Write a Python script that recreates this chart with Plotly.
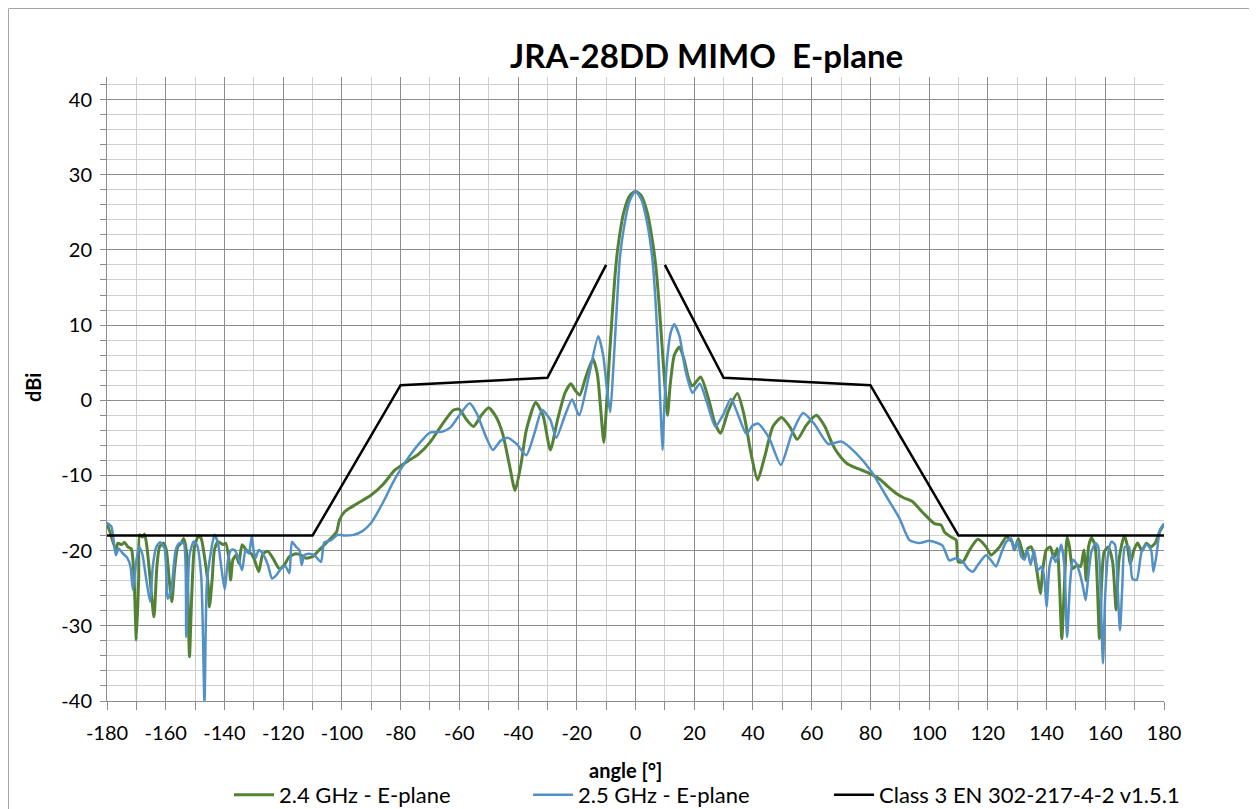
import plotly.graph_objects as go

# ---------------- data ----------------
green_angle = [-180, -179, -177, -176.3, -175.1, -174, -172.9, -171.7, -170.8, -170, -169.2, -168.9, -168, -167.2,
               -166.4, -165.5, -164, -163, -162.1, -160.7, -159.8, -158.7, -157.9, -157, -155.9, -154.7, -153.9,
               -153, -152.4, -151.9, -151.2, -150.2, -148.8, -147.9, -146.8, -145.6, -145.1, -144.2, -143.4, -142.2,
               -140.5, -139.6, -138.5, -137.9, -137.1, -136, -135.1, -134, -132.6, -130.9, -129.8, -128.3, -126.9,
               -125.2, -123.5, -121.3, -119.6, -117.9, -115.6, -113.9, -112.2, -110, -107.7, -105.4, -103.1, -101.8,
               -100.8, -99, -95, -90, -86, -82, -78, -74, -70, -66, -62, -60, -57.5, -55.2, -52.5, -50, -47.5,
               -45.2, -43, -41, -39, -37.2, -34, -31.5, -29, -26.5, -24, -22, -20.5, -19, -17, -14.5, -13, -12,
               -10.8, -10, -9, -8, -7, -6, -4, -2, 0, 2, 4, 6, 7, 8, 9, 10, 10.9, 11.8, 13.2, 14.9, 16.5, 18, 19.4,
               22.2, 25, 27, 29, 31.5, 34.7, 37, 39.3, 41.6, 44, 46.8, 49.7, 52.5, 55.1, 58.2, 61.6, 64.5, 67, 69,
               72, 75.8, 79, 83.2, 86, 88.8, 91.5, 94.4, 98, 101.8, 104.1, 105.2, 107.5, 109.2, 109.9, 111.5, 113.8,
               116.6, 119.4, 121.1, 124, 126.3, 128.2, 129.1, 130.4, 131.6, 132.5, 133.6, 134.8, 136.1, 137, 137.9,
               138.7, 139.9, 141.3, 142.5, 143.6, 144.4, 145.2, 146.1, 147, 147.8, 148.9, 150.4, 151.6, 152.7,
               153.5, 154.3, 155.3, 156.5, 157.3, 158, 158.8, 159.6, 161, 162.5, 163.7, 164.6, 165.6, 166.5, 167.6,
               168.5, 169.7, 171, 172.5, 174, 175.5, 177, 178.5, 180]
green_dbi = [-16.5, -17.5, -19.9, -19.0, -19.2, -18.9, -19.5, -19.8, -23.5, -31.9, -23.5, -17.9, -18.2, -17.8,
             -19.5, -23.0, -28.8, -22.1, -19.5, -19.0, -19.9, -24.3, -26.8, -22.6, -19.5, -19.0, -18.4,
             -19.9, -26.6, -34.1, -26.6, -19.5, -18.0, -18.4, -20.8, -24.4, -27.5, -23.9, -19.9, -18.8,
             -19.2, -19.0, -21.0, -23.9, -21.2, -20.6, -21.7, -19.2, -19.9, -20.4, -21.2, -22.8, -20.4,
             -20.1, -21.0, -22.4, -21.9, -20.8, -20.4, -20.6, -21.0, -20.8, -19.9, -19.0, -18.1, -17.5,
             -15.9, -14.8, -13.8, -12.6, -11.2, -9.3, -8.2, -7.2, -5.6, -3.3, -1.3, -1.2, -2.6, -3.5, -2.0, -1.0, -2.2,
             -4.5, -8.5, -12.0, -8.5, -4.0, -0.3, -2.0, -6.6, -2.5, 1.0, 2.2, 1.3, 0.7, 3.0, 5.5, 3.5, -0.5,
             -5.6, -1.5, 5.0, 11.0, 16.5, 20.3, 25.0, 27.2, 27.8, 27.2, 25.0, 20.6, 17.5, 13.0, 7.5, 2.0, -2.0, 2.0, 6.0, 7.1, 5.5, 3.0, 1.9,
             3.1, 0.0, -3.0, -4.4, -1.5, 0.9, -2.0, -7.0, -10.6, -7.5, -3.5, -2.3, -3.5, -5.2, -3.3, -2.0, -3.5, -5.8, -7.1,
             -8.4, -9.1, -9.6, -10.5, -11.5, -12.4, -13.0, -13.5, -15.0, -16.4, -16.6, -17.5, -18.2, -18.6, -21.5, -21.5, -19.9,
             -18.5, -19.5, -20.6, -19.5, -18.2, -18.8, -19.9, -18.4, -19.9, -21.0, -19.7, -19.5, -21.3, -23.5, -25.7,
             -22.6, -19.9, -19.5, -21.0, -19.7, -24.4, -31.7, -24.4, -18.2, -19.5, -22.4, -21.9, -22.1, -19.9,
             -24.0, -19.5, -18.3, -19.3, -24.5, -31.7, -24.0, -20.2, -19.5, -21.5, -27.9, -21.5, -19.2, -18.0, -19.5,
             -21.8, -20.0, -19.0, -20.0, -19.0, -19.5, -19.0, -17.5, -16.5]

blue_angle = [-180, -178.5, -177, -176, -174.8, -173.2, -172, -171.2, -170.2, -169.1, -168, -166.6, -165.3, -164.4,
              -163.2, -161.9, -160.4, -159.3, -158.1, -156.6, -155.3, -153.9, -153, -151.9, -150.5, -149.4, -147.9,
              -146.8, -146, -144.7, -143.4, -142.2, -141.1, -139.9, -138.8, -137.7, -136.6, -135.4, -134, -132.8,
              -131.7, -130.7, -130.1, -129.4, -128.3, -126.9, -125.2, -123.8, -122.4, -120.7, -119.2, -117.9, -117,
              -115.6, -114.5, -113.7, -112.8, -111.1, -109.4, -107.1, -106, -103.7, -101.4, -99, -96, -93, -90, -86,
              -82, -78, -74, -70, -66, -63, -60, -56.5, -54, -51, -48.6, -46, -43.5, -40.5, -37.2, -34.5, -31.8, -29,
              -27, -24, -21.6, -19.2, -16, -12.7, -11, -9.6, -8.6, -7.6, -6.5, -5.4, -4, -2, 0, 2, 4, 5.8, 7, 8, 8.7,
              9.2, 9.8, 10.8, 12, 13.2, 15, 17, 19.4, 21.9, 24.5, 27.2, 30, 32.5, 35, 37.8, 39.8, 41.8, 45.5, 49.5,
              53.2, 57.1, 61, 65.6, 70.2, 75, 80.4, 85, 89.9, 93.3, 96.7, 100.1, 104.5, 106.9, 109.2, 111.5, 113.2,
              114.9, 116.6, 119.4, 121.1, 122.8, 124.5, 126.3, 128, 128.9, 130.1, 131.4, 132.5, 133.4, 134.6, 135.7,
              137, 138.4, 139.3, 140, 141, 142.1, 143.1, 143.8, 145, 146.1, 147, 148, 149, 150.1, 151.3, 152.4,
              153.3, 154.2, 155.3, 156.7, 157.6, 158.5, 159.2, 160, 161, 162.1, 163.3, 164.2, 165, 165.8, 166.7,
              168.1, 169.2, 170.7, 172.4, 174.1, 175.6, 176.4, 177.5, 178.6, 180]
blue_dbi = [-16.3, -16.8, -20.6, -19.7, -20.3, -20.9, -22.1, -25.2, -21.9, -19.5, -20.4, -23.9, -26.8, -22.1,
            -19.5, -18.9, -19.7, -26.4, -25.2, -19.9, -19.0, -19.0, -31.5, -20.6, -18.8, -19.2, -23.5,
            -40.0, -24.4, -20.4, -17.9, -19.0, -22.1, -25.2, -21.2, -19.9, -19.9, -20.8, -22.6, -19.9,
            -20.4, -18.1, -19.9, -21.0, -19.9, -20.4, -21.9, -23.7, -23.3, -22.4, -22.1, -23.0, -18.8,
            -19.5, -19.9, -21.9, -20.6, -20.4, -20.6, -21.5, -18.9, -18.6, -17.9, -18.0, -17.9, -17.4, -16.3, -13.6,
            -10.5, -8.0, -5.9, -4.3, -4.2, -3.6, -2.0, -0.4, -1.8, -4.8, -6.6, -5.4, -5.0, -5.8, -7.3, -4.5, -1.3, -2.6,
            -5.0, -2.0, 0.1, -2.0, 3.0, 8.5, 6.0, 1.0, -1.6, 4.0, 11.5, 18.6, 22.8, 26.5, 27.8, 26.7, 23.5, 18.6, 12.0, 4.0, -2.5,
            -6.6, -1.0, 5.5, 9.0, 10.1, 8.5, 4.0, 1.0, 2.2, -0.5, -3.5, -1.8, 0.2, -2.0, -4.5, -3.4, -3.1, -5.0, -8.6,
            -4.5, -1.7, -3.2, -5.8, -5.5, -7.0, -9.5, -12.5, -15.7, -18.6, -19.0, -18.7, -19.3, -21.3, -21.0, -21.5, -22.4,
            -22.8, -21.9, -20.6, -21.3, -22.1, -20.4, -18.8, -18.4, -19.9, -18.8, -20.8, -21.2, -19.9, -21.9, -19.9,
            -22.6, -22.1, -23.9, -27.5, -22.1, -20.6, -21.5, -21.0, -19.2, -22.1, -31.5, -24.4, -21.2, -21.7, -23.0, -24.8,
            -26.6, -23.5, -20.1, -19.0, -19.5, -26.6, -35.0, -25.7, -20.4, -18.8, -19.2, -24.8, -30.6, -24.8, -19.5,
            -19.5, -23.7, -23.9, -20.1, -19.2, -19.9, -22.8, -20.4, -17.3, -16.4]

mask_angle = [-180, -110, -80, -30, -10, None, 10, 30, 80, 110, 180]
mask_dbi = [-18, -18, 2, 3, 18, None, 18, 3, 2, -18, -18]

x_ticks = list(range(-180, 181, 20))
x_tick_labels = [str(v) for v in x_ticks]
y_ticks = list(range(-40, 41, 10))
y_tick_labels = [str(v) for v in y_ticks]

series_names = ["2.4 GHz - E-plane", "2.5 GHz - E-plane", "Class 3 EN 302-217-4-2 v1.5.1"]
title_text = "JRA-28DD MIMO\u00a0 E-plane"

FONT = "Lato, 'Open Sans', sans-serif"
GREEN = "#548235"
BLUE = "#5290c8"

fig = go.Figure()
fig.add_trace(go.Scatter(x=green_angle, y=green_dbi, mode="lines", name=series_names[0], legend="legend",
                         line=dict(color=GREEN, width=3, shape="spline", smoothing=0.6)))
fig.add_trace(go.Scatter(x=blue_angle, y=blue_dbi, mode="lines", name=series_names[1], legend="legend2",
                         line=dict(color=BLUE, width=2.5, shape="spline", smoothing=0.6)))
fig.add_trace(go.Scatter(x=mask_angle, y=mask_dbi, mode="lines", name=series_names[2], legend="legend3",
                         line=dict(color="black", width=2.5), connectgaps=False))

# page body has an 8px margin: figure pixel = screen pixel - 8
OFF = 8
W, H = 1257 - OFF, 809 - OFF
L, R, T, B = 107 - OFF, 1164 - OFF, 77 - OFF, 701 - OFF


def px_x(screen_p):
    return (screen_p - OFF - L) / (R - L)


def px_y(screen_p):
    return (B - (screen_p - OFF)) / (B - T)


def legend_at(screen_x):
    return dict(orientation="h", x=px_x(screen_x), y=px_y(795), xanchor="left", yanchor="middle",
                font=dict(family=FONT, size=22), bgcolor="rgba(0,0,0,0)", itemwidth=40)


fig.update_layout(
    width=W, height=H,
    margin=dict(l=L, r=W - R, t=T, b=H - B, autoexpand=False),
    paper_bgcolor="white", plot_bgcolor="white",
    font=dict(family=FONT, size=20, color="black"),
    showlegend=True,
    legend=legend_at(229),
    legend2=legend_at(528),
    legend3=legend_at(829),
    xaxis=dict(range=[-180, 180], tickmode="array", tickvals=x_ticks, ticktext=x_tick_labels,
               showgrid=True, gridcolor="#8c8c8c", gridwidth=1,
               showline=True, linecolor="#8c8c8c", linewidth=1,
               ticks="outside", ticklen=8, tickcolor="#8c8c8c", ticklabelstandoff=6,
               minor=dict(dtick=10, tick0=0, showgrid=True, gridcolor="#cfcfcf", gridwidth=1,
                          ticks="outside", ticklen=8, tickcolor="#8c8c8c"),
               zeroline=False, tickfont=dict(size=20)),
    yaxis=dict(range=[-40, 43], tickmode="array", tickvals=y_ticks, ticktext=y_tick_labels,
               showgrid=True, gridcolor="#8c8c8c", gridwidth=1,
               showline=True, linecolor="#8c8c8c", linewidth=1,
               ticks="outside", ticklen=6, tickcolor="#8c8c8c", ticklabelstandoff=4,
               minor=dict(dtick=2, tick0=0, showgrid=True, gridcolor="#cfcfcf", gridwidth=1,
                          ticks="outside", ticklen=6, tickcolor="#8c8c8c"),
               zeroline=False, tickfont=dict(size=20)),
    shapes=[dict(type="rect", xref="paper", yref="paper",
                 x0=px_x(8.5), x1=px_x(1252), y0=px_y(830), y1=px_y(8.5),
                 line=dict(color="#a6a6a6", width=1), fillcolor="rgba(0,0,0,0)", layer="below")],
    annotations=[
        dict(text="<b>" + title_text + "</b>", x=px_x(706), y=px_y(55), xref="paper", yref="paper",
             showarrow=False, xanchor="center", yanchor="middle", font=dict(family=FONT, size=33)),
        dict(text="<b>dBi</b>", x=px_x(33), y=px_y(388), xref="paper", yref="paper", textangle=-90,
             showarrow=False, xanchor="center", yanchor="middle", font=dict(family=FONT, size=20)),
        dict(text="<b>angle [°]</b>", x=px_x(625), y=px_y(770), xref="paper", yref="paper",
             showarrow=False, xanchor="center", yanchor="middle", font=dict(family=FONT, size=20)),
    ],
)

fig.write_html("out.html")
